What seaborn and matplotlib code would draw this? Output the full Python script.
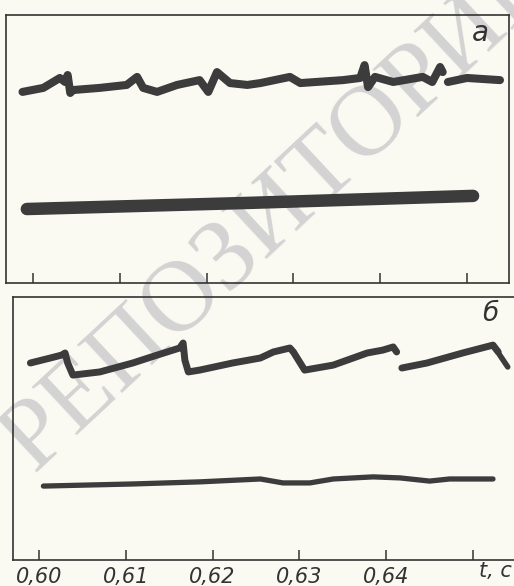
import numpy as np
import pandas as pd
import matplotlib
matplotlib.use("Agg")
import matplotlib.pyplot as plt
import seaborn as sns

# oscillogram traces (t in s, amplitude in arbitrary units 0..100)
a_upper_t = [0.5988, 0.6012, 0.6031, 0.6037, 0.6040, 0.6043, 0.6046, 0.6077, 0.6108,
             0.6120, 0.6127, 0.6143, 0.6166, 0.6192, 0.6202, 0.6212, 0.6227, 0.6247,
             0.6262, 0.6296, 0.6308, 0.6357, 0.6377, 0.6382, 0.6386, 0.6394, 0.6415,
             0.6449, 0.6460, 0.6469, 0.6472]
a_upper_v = [71.3, 72.8, 76.5, 75.0, 77.6, 70.9, 72.0, 72.8, 73.9,
             76.9, 72.8, 71.3, 73.9, 75.7, 71.3, 78.7, 74.6, 73.9,
             74.6, 76.9, 74.6, 75.7, 76.5, 81.3, 73.1, 76.9, 75.0,
             76.9, 75.0, 80.6, 78.7]
a_upper2_t = [0.6478, 0.6500, 0.6538]
a_upper2_v = [75.0, 76.5, 75.7]
a_lower_t = [0.5993, 0.6250, 0.6507]
a_lower_v = [27.6, 29.9, 32.5]

b_upper_t = [0.5990, 0.6013, 0.6026, 0.6030, 0.6033, 0.6039, 0.6070, 0.6108, 0.6136,
             0.6162, 0.6166, 0.6168, 0.6172, 0.6185, 0.6223, 0.6255, 0.6270, 0.6289,
             0.6293, 0.6306, 0.6339, 0.6378, 0.6396, 0.6408, 0.6412]
b_upper_v = [74.9, 76.8, 77.9, 78.7, 74.9, 70.3, 71.5, 74.9, 77.9,
             80.6, 82.5, 76.0, 71.5, 72.2, 74.9, 76.8, 79.1, 80.6,
             79.1, 72.2, 74.1, 78.7, 79.8, 81.0, 79.1]
b_upper2_t = [0.6418, 0.6447, 0.6488, 0.6523, 0.6529]
b_upper2_v = [73.0, 74.9, 78.7, 81.7, 79.1]
b_upper3_t = [0.6530, 0.6540]
b_upper3_v = [78.3, 73.4]
b_lower_t = [0.6005, 0.6108, 0.6185, 0.6255, 0.6281, 0.6312, 0.6339, 0.6385, 0.6416,
             0.6450, 0.6473, 0.6523]
b_lower_v = [28.1, 28.9, 29.7, 30.8, 29.3, 29.3, 30.8, 31.6, 31.2,
             30.0, 30.8, 30.8]

ticks = [0.60, 0.61, 0.62, 0.63, 0.64, 0.65]
tick_labels = ["0,60", "0,61", "0,62", "0,63", "0,64", ""]

paper = "#fbfaf2"
ink = "#3c3c3c"

sns.set_style("white")
plt.rcParams["font.family"] = ["Liberation Sans Narrow", "DejaVu Sans"]

fig = plt.figure(figsize=(5.14, 5.86), dpi=100, facecolor=paper)
ax_a = fig.add_axes([0.0117, 0.5171, 0.9786, 0.4573])
ax_b = fig.add_axes([0.0253, 0.0444, 0.9747, 0.4488])


def trace(ax, t, v, lw):
    df = pd.DataFrame({"t": t, "v": v})
    sns.lineplot(data=df, x="t", y="v", ax=ax, color=ink, lw=lw, sort=False,
                 estimator=None, solid_capstyle="round", solid_joinstyle="round")


trace(ax_a, a_upper_t, a_upper_v, 5.8)
trace(ax_a, a_upper2_t, a_upper2_v, 5.8)
trace(ax_a, a_lower_t, a_lower_v, 9.0)
trace(ax_b, b_upper_t, b_upper_v, 5.0)
trace(ax_b, b_upper2_t, b_upper2_v, 5.0)
trace(ax_b, b_upper3_t, b_upper3_v, 4.0)
trace(ax_b, b_lower_t, b_lower_v, 3.8)

ax_a.set_xlim(0.5969, 0.65484)
ax_b.set_xlim(0.5970, 0.65472)
for ax in (ax_a, ax_b):
    ax.set_ylim(0, 100)
    ax.set_facecolor("none")
    ax.set_xlabel("")
    ax.set_ylabel("")
    ax.set_yticks([])
    ax.set_xticks(ticks)
    ax.tick_params(axis="x", direction="in", length=7, width=1.1, color="#333333",
                   bottom=True, pad=5)
    for s in ax.spines.values():
        s.set_color("#333333")
        s.set_linewidth(1.2)

ax_a.set_xticklabels([])
ax_b.set_xticklabels(tick_labels, fontsize=15, style="italic", color="#333333")
ax_b.spines["right"].set_visible(False)

ax_a.text(0.944, 0.933, "а", transform=ax_a.transAxes, fontsize=20, style="italic",
          color="#333333", ha="center", va="center")
ax_b.text(0.952, 0.935, "б", transform=ax_b.transAxes, fontsize=19, style="italic",
          color="#333333", ha="center", va="center")
fig.text(0.996, 0.008, "t, c", fontsize=15, style="italic", color="#333333",
         ha="right", va="bottom")

# faint repository watermark across the page
fig.text(0.55, 0.643, "РЕПОЗИТОРИЙ", rotation=43, fontsize=73,
         family=["Liberation Serif", "DejaVu Serif"], color="#d3d3d3",
         ha="center", va="center", zorder=-1)

fig.savefig("out.png", dpi=100, facecolor=paper)
